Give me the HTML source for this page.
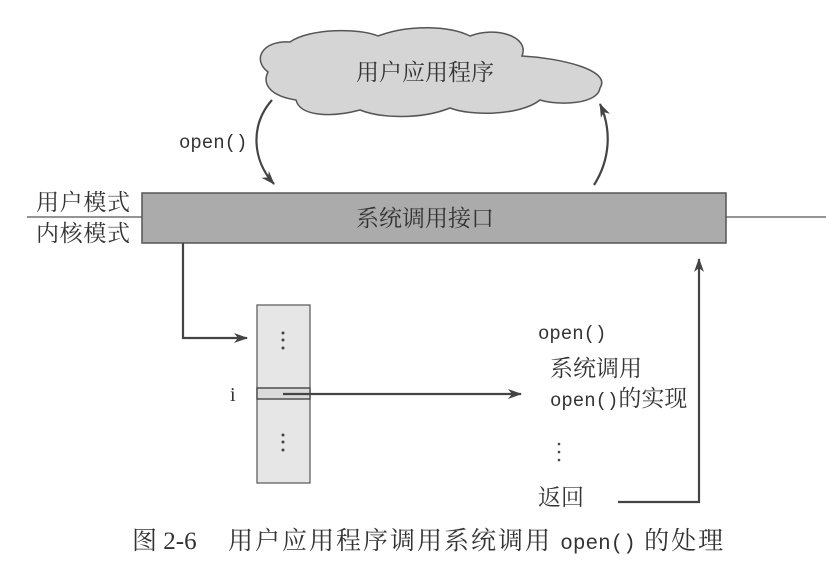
<!DOCTYPE html>
<html><head><meta charset="utf-8"><style>
body{margin:0;background:#fff;}
svg text{font-family:"Liberation Serif","Noto Serif CJK SC","Noto Sans CJK SC",serif;fill:#333;}
.m{font-family:"Liberation Mono","Noto Sans CJK SC",monospace !important;}
</style></head><body>
<svg width="826" height="564" viewBox="0 0 826 564" xmlns="http://www.w3.org/2000/svg">
<defs><marker id="a" markerWidth="14" markerHeight="10" refX="13" refY="5" orient="auto" markerUnits="userSpaceOnUse"><path d="M0,0 L14,5 L0,10 L4,5z" fill="#444"/></marker></defs>
<path d="M268,72 C252,60 262,40 290,42 C310,28 360,28 378,36 C410,24 450,26 470,36 C495,26 530,36 522,56 C560,58 612,70 600,88 C598,104 560,106 540,100 C520,116 470,116 450,108 C420,120 380,118 360,110 C330,118 300,116 296,100 C270,96 262,84 268,72Z" fill="#d5d5d5" stroke="#555" stroke-width="1.5"/>
<text x="425" y="80" font-size="23" text-anchor="middle">用户应用程序</text>
<path d="M272,100 C250,125 252,160 274,184" fill="none" stroke="#444" stroke-width="2.2" marker-end="url(#a)"/>
<text class="m" x="179" y="148" font-size="19">open()</text>
<path d="M594,185 C610,160 612,130 600,104" fill="none" stroke="#444" stroke-width="2.2" marker-end="url(#a)"/>
<line x1="27" y1="217" x2="143" y2="217" stroke="#555" stroke-width="1.2"/>
<line x1="726" y1="217" x2="826" y2="217" stroke="#555" stroke-width="1.2"/>
<text x="36" y="210" font-size="23" textLength="94">用户模式</text>
<text x="36" y="241" font-size="23" textLength="94">内核模式</text>
<rect x="142" y="193" width="584" height="50" fill="#ababab" stroke="#555" stroke-width="1.5"/>
<text x="425" y="226" font-size="23" text-anchor="middle">系统调用接口</text>
<path d="M183,243 V338 H247" fill="none" stroke="#444" stroke-width="2.2" marker-end="url(#a)"/>
<rect x="257" y="305" width="53" height="178" fill="#e6e6e6" stroke="#555" stroke-width="1.2"/>
<rect x="257" y="388" width="53" height="11" fill="#dadada" stroke="#444" stroke-width="1.4"/>
<text x="230" y="401" font-size="20">i</text>
<g fill="#444"><circle cx="283" cy="333" r="1.5"/><circle cx="283" cy="340" r="1.5"/><circle cx="283" cy="348" r="1.5"/>
<circle cx="283" cy="435" r="1.5"/><circle cx="283" cy="442" r="1.5"/><circle cx="283" cy="450" r="1.5"/>
<circle cx="559" cy="444" r="1.3"/><circle cx="559" cy="452" r="1.3"/><circle cx="559" cy="460" r="1.3"/></g>
<line x1="283" y1="394" x2="521" y2="394" stroke="#444" stroke-width="2.2" marker-end="url(#a)"/>
<text class="m" x="538" y="339" font-size="19">open()</text>
<text x="550" y="376" font-size="23">系统调用</text>
<text x="550" y="406" font-size="23"><tspan class="m" font-size="19">open()</tspan>的实现</text>
<text x="538" y="505" font-size="23">返回</text>
<path d="M618,502 H699 V259" fill="none" stroke="#444" stroke-width="2.2" marker-end="url(#a)"/>
<text x="132" y="549" font-size="25">图 2-6</text>
<text x="228" y="549" font-size="25" letter-spacing="2">用户应用程序调用系统调用 <tspan class="m" font-size="21" letter-spacing="0">open()</tspan> 的处理</text>
</svg>
</body></html>
